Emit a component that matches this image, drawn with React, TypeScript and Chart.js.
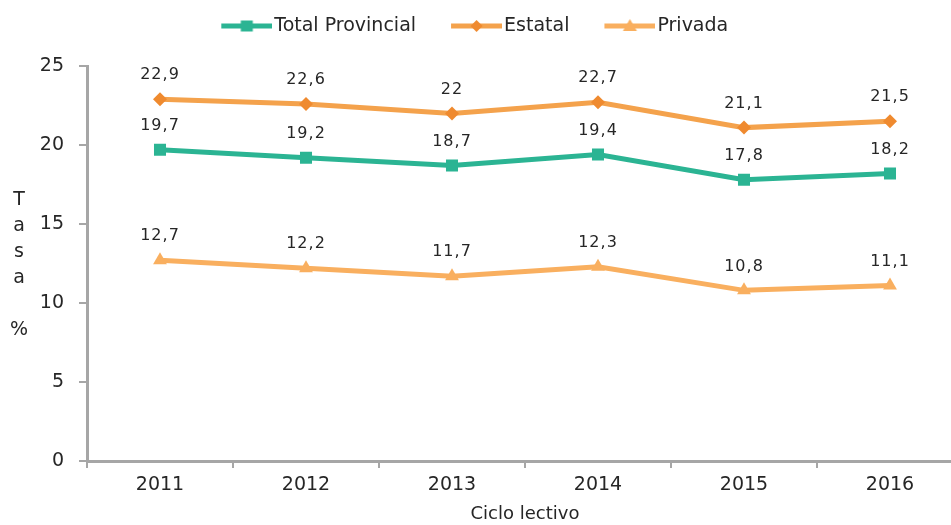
import React, { useEffect, useRef } from 'react';
import { Chart, registerables } from 'chart.js';

Chart.register(...registerables);

const years = ['2011', '2012', '2013', '2014', '2015', '2016'];
const totalProvincial = [19.7, 19.2, 18.7, 19.4, 17.8, 18.2];
const estatal = [22.9, 22.6, 22, 22.7, 21.1, 21.5];
const privada = [12.7, 12.2, 11.7, 12.3, 10.8, 11.1];
const seriesNames = ['Total Provincial', 'Estatal', 'Privada'];
const yTitleLines = ['T', 'a', 's', 'a', '', '%'];
const xTitle = 'Ciclo lectivo';

const GREEN = '#2BB493';
const ORANGE = '#F4A24C';
const ORANGE_MARK = '#EF8A2F';
const LIGHT = '#F9AF5F';
const TEXT = '#262626';
const AXIS = '#A6A6A6';
const FONT = '"DejaVu Sans", sans-serif';

function legendIcon(line: string, mark: string, style: string): HTMLCanvasElement {
  const c = document.createElement('canvas');
  const W = 77;
  const H = 20;
  c.width = W;
  c.height = H;
  const ctx = c.getContext('2d')!;
  const x0 = W - 51;
  const cy = H / 2;
  ctx.strokeStyle = line;
  ctx.lineWidth = 5;
  ctx.beginPath();
  ctx.moveTo(x0, cy);
  ctx.lineTo(W, cy);
  ctx.stroke();
  const cx = x0 + 25.5;
  ctx.fillStyle = mark;
  ctx.beginPath();
  if (style === 'rect') {
    ctx.rect(cx - 6, cy - 5.5, 12, 11);
  } else if (style === 'rectRot') {
    ctx.moveTo(cx, cy - 6);
    ctx.lineTo(cx + 6, cy);
    ctx.lineTo(cx, cy + 6);
    ctx.lineTo(cx - 6, cy);
    ctx.closePath();
  } else {
    ctx.moveTo(cx, cy - 7);
    ctx.lineTo(cx + 7, cy + 5);
    ctx.lineTo(cx - 7, cy + 5);
    ctx.closePath();
  }
  ctx.fill();
  return c;
}

const dataLabels = {
  id: 'dataLabels',
  afterDatasetsDraw(chart: any) {
    const ctx = chart.ctx;
    ctx.save();
    ctx.font = `16px ${FONT}`;
    (ctx as any).letterSpacing = '1px';
    ctx.fillStyle = TEXT;
    ctx.textAlign = 'center';
    ctx.textBaseline = 'middle';
    chart.data.datasets.forEach((ds: any, i: number) => {
      const meta = chart.getDatasetMeta(i);
      meta.data.forEach((pt: any, j: number) => {
        const v = ds.data[j];
        ctx.fillText(String(v).replace('.', ','), pt.x, pt.y - 24);
      });
    });
    ctx.restore();
  },
};

const yTitlePlugin = {
  id: 'yTitleStack',
  afterDraw(chart: any) {
    const ctx = chart.ctx;
    const area = chart.chartArea;
    const mid = (area.top + area.bottom) / 2;
    const step = 26;
    const start = mid - ((yTitleLines.length - 1) / 2) * step + 2;
    ctx.save();
    ctx.font = `19px ${FONT}`;
    ctx.fillStyle = TEXT;
    ctx.textAlign = 'center';
    ctx.textBaseline = 'middle';
    yTitleLines.forEach((s, i) => {
      if (s) ctx.fillText(s, 19, start + i * step);
    });
    ctx.restore();
  },
};

export default function App() {
  const ref = useRef<HTMLCanvasElement>(null);

  useEffect(() => {
    if (!ref.current) return;
    const icons = [
      legendIcon(GREEN, GREEN, 'rect'),
      legendIcon(ORANGE, ORANGE_MARK, 'rectRot'),
      legendIcon(LIGHT, LIGHT, 'triangle'),
    ];
    const chart = new Chart(ref.current, {
      type: 'line',
      data: {
        labels: years,
        datasets: [
          {
            label: seriesNames[0],
            data: totalProvincial,
            borderColor: GREEN,
            backgroundColor: GREEN,
            pointBackgroundColor: GREEN,
            pointBorderWidth: 0,
            pointStyle: 'rect',
            pointRadius: 8.5,
            borderWidth: 5,
            tension: 0,
          },
          {
            label: seriesNames[1],
            data: estatal,
            borderColor: ORANGE,
            backgroundColor: ORANGE,
            pointBackgroundColor: ORANGE_MARK,
            pointBorderWidth: 0,
            pointStyle: 'rectRot',
            pointRadius: 7,
            borderWidth: 5,
            tension: 0,
          },
          {
            label: seriesNames[2],
            data: privada,
            borderColor: LIGHT,
            backgroundColor: LIGHT,
            pointBackgroundColor: LIGHT,
            pointBorderWidth: 0,
            pointStyle: 'triangle',
            pointRadius: 8,
            borderWidth: 5,
            tension: 0,
          },
        ],
      },
      options: {
        responsive: false,
        animation: false,
        devicePixelRatio: 1,
        layout: { padding: { top: 0, left: -32, right: 12, bottom: 0 } },
        plugins: {
          tooltip: { enabled: false },
          legend: {
            display: true,
            position: 'top',
            weight: 3000,
            labels: {
              usePointStyle: true,
              pointStyleWidth: 62,
              padding: 16.5,
              color: TEXT,
              font: { family: FONT, size: 19 },
              generateLabels: (c: any) =>
                c.data.datasets.map((ds: any, i: number) => ({
                  text: ds.label,
                  pointStyle: icons[i],
                  fillStyle: ds.borderColor,
                  strokeStyle: ds.borderColor,
                  lineWidth: 0,
                  hidden: false,
                  datasetIndex: i,
                  fontColor: TEXT,
                })),
            },
          },
          title: {
            display: true,
            text: ' ',
            position: 'top',
            weight: 2000,
            padding: { top: 8.5, bottom: 0 },
            font: { size: 10, family: FONT },
          },
        },
        scales: {
          x: {
            type: 'category',
            offset: true,
            border: { display: true, color: AXIS, width: 3 },
            grid: {
              display: true,
              offset: true,
              drawOnChartArea: false,
              drawTicks: true,
              tickLength: 7,
              color: AXIS,
              lineWidth: 2,
            },
            ticks: { color: TEXT, font: { family: FONT, size: 19 }, padding: 6, maxRotation: 0 },
            title: {
              display: true,
              text: xTitle,
              color: TEXT,
              font: { family: FONT, size: 18 },
              padding: { top: 0, bottom: 0 },
            },
            afterFit: (s: any) => {
              s.height = 64;
            },
          },
          y: {
            min: 0,
            max: 25,
            border: { display: true, color: AXIS, width: 3 },
            grid: {
              display: true,
              drawOnChartArea: false,
              drawTicks: true,
              tickLength: 8,
              color: AXIS,
              lineWidth: 2,
            },
            ticks: { stepSize: 5, color: TEXT, font: { family: FONT, size: 19 }, padding: 15 },
            afterFit: (s: any) => {
              s.width = 119;
            },
          },
        },
      },
      plugins: [dataLabels, yTitlePlugin],
    } as any);
    return () => chart.destroy();
  }, []);

  return (
    <div
      style={{
        position: 'fixed',
        left: 0,
        top: 0,
        width: 951,
        height: 525,
        overflow: 'hidden',
        background: '#fff',
      }}
    >
      <canvas ref={ref} width={975} height={525} style={{ width: 975, height: 525, display: 'block' }} />
    </div>
  );
}
